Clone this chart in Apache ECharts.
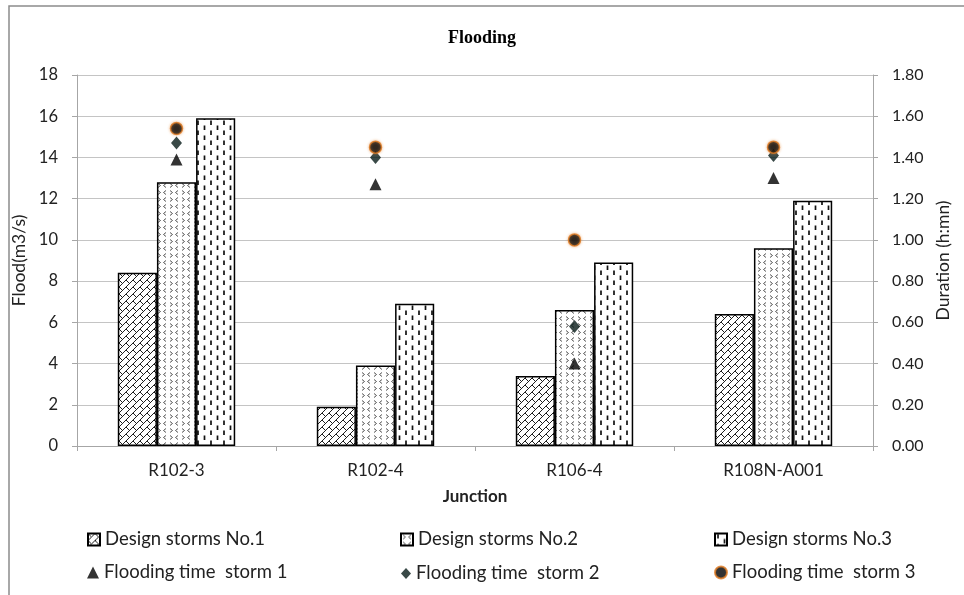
<!DOCTYPE html>
<html>
<head>
<meta charset="utf-8">
<script src="https://cdn.jsdelivr.net/npm/echarts@6/dist/echarts.min.js"></script>
<style>
  html, body { margin: 0; padding: 0; background: #fff; }
  #chart { width: 964px; height: 595px; }
</style>
</head>
<body>
<div id="chart"></div>
<script>
// Junctions and measured values
const junctions = ['R102-3', 'R102-4', 'R106-4', 'R108N-A001'];
const storm1Flood = [8.4, 1.9, 3.4, 6.4];
const storm2Flood = [12.8, 3.9, 6.6, 9.6];
const storm3Flood = [15.9, 6.9, 8.9, 11.9];
const storm1Time = [1.39, 1.27, 0.40, 1.30];
const storm2Time = [1.47, 1.40, 0.58, 1.41];
const storm3Time = [1.54, 1.45, 1.00, 1.45];
const floodTicks = [0, 2, 4, 6, 8, 10, 12, 14, 16, 18];
const durationTicks = ['0.00', '0.20', '0.40', '0.60', '0.80', '1.00', '1.20', '1.40', '1.60', '1.80'];

const FONT = 'Lato';

function tile(w, h, draw) {
  const c = document.createElement('canvas');
  c.width = w; c.height = h;
  const g = c.getContext('2d');
  g.fillStyle = '#fff';
  g.fillRect(0, 0, w, h);
  draw(g);
  return { image: c, repeat: 'repeat' };
}

// Diagonal brick fill: continuous "/" rows with short "\" joints
const brickFill = tile(14, 14, g => {
  g.strokeStyle = '#1e1e1e';
  g.lineWidth = 1;
  g.beginPath();
  for (let k = -4; k <= 8; k++) {
    const v = 7 * k;
    g.moveTo(v + 28, -28);
    g.lineTo(v - 28, 28);
  }
  for (let k = -4; k <= 8; k++) {
    const v0 = 7 * k, v1 = v0 + 7;
    const off = ((k % 2) + 2) % 2 * 7;
    for (let m = -4; m <= 4; m++) {
      const u = 14 * m + off;
      g.moveTo((u + v0) / 2, (v0 - u) / 2);
      g.lineTo((u + v1) / 2, (v1 - u) / 2);
    }
  }
  g.stroke();
});

// Small chevron fill
const chevronFill = tile(12, 7, g => {
  g.strokeStyle = '#555';
  g.lineWidth = 1;
  g.beginPath();
  g.moveTo(2, 1.5); g.lineTo(4.5, 3.5); g.lineTo(2, 5.5);
  g.moveTo(10, 1.5); g.lineTo(7.5, 3.5); g.lineTo(10, 5.5);
  g.stroke();
});

// Staggered vertical dash fill
const dashFill = tile(13, 10, g => {
  g.strokeStyle = '#111';
  g.lineWidth = 1.7;
  g.beginPath();
  g.moveTo(3, 0.5); g.lineTo(3, 5);
  g.moveTo(9.5, 5.5); g.lineTo(9.5, 10);
  g.stroke();
});

const barBorder = { borderColor: '#000', borderWidth: 1.5 };

const chart = echarts.init(document.getElementById('chart'), null, { renderer: 'canvas' });

const legendText = { fontFamily: FONT, fontSize: 18.5, color: '#222' };
function legendAt(name, left, top, icon, extra) {
  return Object.assign({
    data: [{ name: name, icon: icon }],
    left: left, top: top, padding: 0,
    itemWidth: 12, itemHeight: 12,
    textStyle: legendText,
    selectedMode: false
  }, extra || {});
}

chart.setOption({
  animation: false,
  backgroundColor: '#fff',
  graphic: [{
    type: 'rect',
    shape: { x: 9, y: 6, width: 1000, height: 700 },
    style: { fill: 'none', stroke: '#8c8c8c', lineWidth: 1.5 },
    silent: true
  }],
  title: {
    text: 'Flooding',
    left: 'center',
    top: 24,
    textStyle: { fontFamily: 'Liberation Serif', fontWeight: 'bold', fontSize: 18, color: '#000' }
  },
  legend: [
    legendAt('Design storms No.1', 87, 530, 'rect'),
    legendAt('Design storms No.2', 400, 530, 'rect'),
    legendAt('Design storms No.3', 714, 530, 'rect'),
    legendAt('Flooding time  storm 1', 87, 563, 'triangle'),
    legendAt('Flooding time  storm 2', 401, 564, 'diamond', { itemWidth: 10, itemHeight: 11 }),
    legendAt('Flooding time  storm 3', 714, 563, 'circle')
  ],
  grid: { left: 77, right: 91, top: 75, bottom: 149, containLabel: false },
  xAxis: {
    type: 'category',
    data: junctions,
    name: 'Junction',
    nameLocation: 'middle',
    nameGap: 42,
    nameTextStyle: { fontFamily: FONT, fontWeight: 'bold', fontSize: 17, color: '#222' },
    axisLine: { lineStyle: { color: '#a6a6a6', width: 1 } },
    axisTick: { show: true, length: 5, alignWithLabel: false, lineStyle: { color: '#a6a6a6' } },
    axisLabel: { fontFamily: FONT, fontSize: 17, color: '#222', margin: 16 }
  },
  yAxis: [{
    type: 'value',
    min: 0, max: 18, interval: 2,
    name: 'Flood(m3/s)',
    nameLocation: 'middle',
    nameGap: 44,
    nameTextStyle: { fontFamily: FONT, fontSize: 17.5, color: '#222' },
    axisLine: { show: true, lineStyle: { color: '#a6a6a6' } },
    axisTick: { show: true, length: 5, lineStyle: { color: '#a6a6a6' } },
    axisLabel: {
      fontFamily: FONT, fontSize: 16.5, color: '#222', margin: 19,
      formatter: v => String(floodTicks[Math.round(v / 2)])
    },
    splitLine: { lineStyle: { color: '#c4c4c4', width: 1 } }
  }, {
    type: 'value',
    min: 0, max: 1.8, interval: 0.2,
    name: 'Duration (h:mn)',
    nameLocation: 'middle',
    nameGap: 58,
    nameRotate: 90,
    nameTextStyle: { fontFamily: FONT, fontSize: 17.5, color: '#222' },
    axisLine: { show: true, lineStyle: { color: '#a6a6a6' } },
    axisTick: { show: true, length: 5, lineStyle: { color: '#a6a6a6' } },
    axisLabel: {
      fontFamily: FONT, fontSize: 16, color: '#222', margin: 19,
      formatter: v => durationTicks[Math.round(v / 0.2)]
    },
    splitLine: { show: false }
  }],
  series: [
    {
      name: 'Design storms No.1', type: 'bar', data: storm1Flood,
      barGap: '0%', barCategoryGap: '41%',
      itemStyle: Object.assign({ color: brickFill }, barBorder)
    },
    {
      name: 'Design storms No.2', type: 'bar', data: storm2Flood,
      barGap: '0%', barCategoryGap: '41%',
      itemStyle: Object.assign({ color: chevronFill }, barBorder)
    },
    {
      name: 'Design storms No.3', type: 'bar', data: storm3Flood,
      barGap: '0%', barCategoryGap: '41%',
      itemStyle: Object.assign({ color: dashFill }, barBorder)
    },
    {
      name: 'Flooding time  storm 1', type: 'scatter', yAxisIndex: 1, data: storm1Time,
      symbol: 'triangle', symbolSize: [12, 12], z: 5,
      itemStyle: { color: '#000' }
    },
    {
      name: 'Flooding time  storm 2', type: 'scatter', yAxisIndex: 1, data: storm2Time,
      symbol: 'diamond', symbolSize: [11, 13], z: 6,
      itemStyle: { color: '#071c19' }
    },
    {
      name: 'Flooding time  storm 3', type: 'scatter', yAxisIndex: 1, data: storm3Time,
      symbol: 'circle', symbolSize: 12, z: 7,
      itemStyle: { color: '#000', borderColor: '#e07a22', borderWidth: 1.5, shadowColor: 'rgba(230,140,60,0.6)', shadowBlur: 3 }
    }
  ]
});
</script>
</body>
</html>
